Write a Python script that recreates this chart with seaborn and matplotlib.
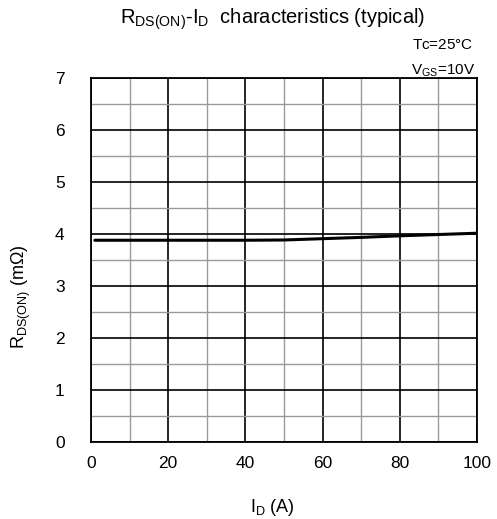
import pandas as pd
import seaborn as sns
import matplotlib.pyplot as plt
from matplotlib.ticker import MultipleLocator

# data
corriente = [1, 10, 20, 30, 40, 50, 60, 70, 80, 90, 100]
rdson = [3.88, 3.88, 3.88, 3.88, 3.88, 3.885, 3.91, 3.935, 3.965, 3.99, 4.015]
x_ticks = [0, 20, 40, 60, 80, 100]
y_ticks = [0, 1, 2, 3, 4, 5, 6, 7]

datos = pd.DataFrame({'ID': corriente, 'RDS': rdson})

sns.set_style("white")
plt.rcParams['font.family'] = ['Liberation Sans', 'DejaVu Sans']
plt.rcParams['mathtext.fontset'] = 'custom'
plt.rcParams['mathtext.rm'] = 'Liberation Sans'
plt.rcParams['mathtext.it'] = 'Liberation Sans'
plt.rcParams['text.color'] = 'black'
plt.rcParams['axes.labelcolor'] = 'black'
plt.rcParams['xtick.color'] = 'black'
plt.rcParams['ytick.color'] = 'black'

fig = plt.figure(figsize=(4.97, 5.19), dpi=100)
ax = fig.add_axes([91 / 497, 1 - 442 / 519, 386 / 497, 364 / 519])

# grid
ax.set_xlim(0, 100)
ax.set_ylim(0, 7)
ax.xaxis.set_major_locator(MultipleLocator(20))
ax.xaxis.set_minor_locator(MultipleLocator(10))
ax.yaxis.set_major_locator(MultipleLocator(1))
ax.yaxis.set_minor_locator(MultipleLocator(0.5))
ax.grid(which='minor', color='#9a9a9a', linewidth=1.0)
ax.grid(which='major', color='black', linewidth=1.2)
ax.set_axisbelow(True)

sns.lineplot(data=datos, x='ID', y='RDS', color='black', linewidth=2.2, ax=ax)

ax.set_xticks(x_ticks)
ax.set_yticks(y_ticks)
ax.tick_params(which='both', length=0, labelsize=12.5)
ax.tick_params(axis='x', pad=10)
ax.tick_params(axis='y', pad=19)
for s in ax.spines.values():
    s.set_color('black')
    s.set_linewidth(1.3)

ax.set_xlabel(r'$\mathregular{I_D}$ (A)', fontsize=13)
ax.set_ylabel(r'$\mathregular{R_{DS(ON)}}$ (m$\Omega$)', fontsize=13)
ax.xaxis.set_label_coords(0.47, -0.15)
ax.yaxis.set_label_coords(-0.15, 0.40)

fig.text(273 / 497, 1 - 19 / 519,
         r'$\mathregular{R_{DS(ON)}}$-$\mathregular{I_D}$  characteristics (typical)',
         ha='center', va='center', fontsize=14.5)
fig.text(473 / 497, 1 - 45 / 519, r'T$\mathregular{c}$=25°C', ha='right', va='center', fontsize=11)
fig.text(475 / 497, 1 - 71 / 519, r'V$\mathregular{_{GS}}$=10V', ha='right', va='center', fontsize=11)

plt.savefig('out.png', dpi=100)
plt.close()
